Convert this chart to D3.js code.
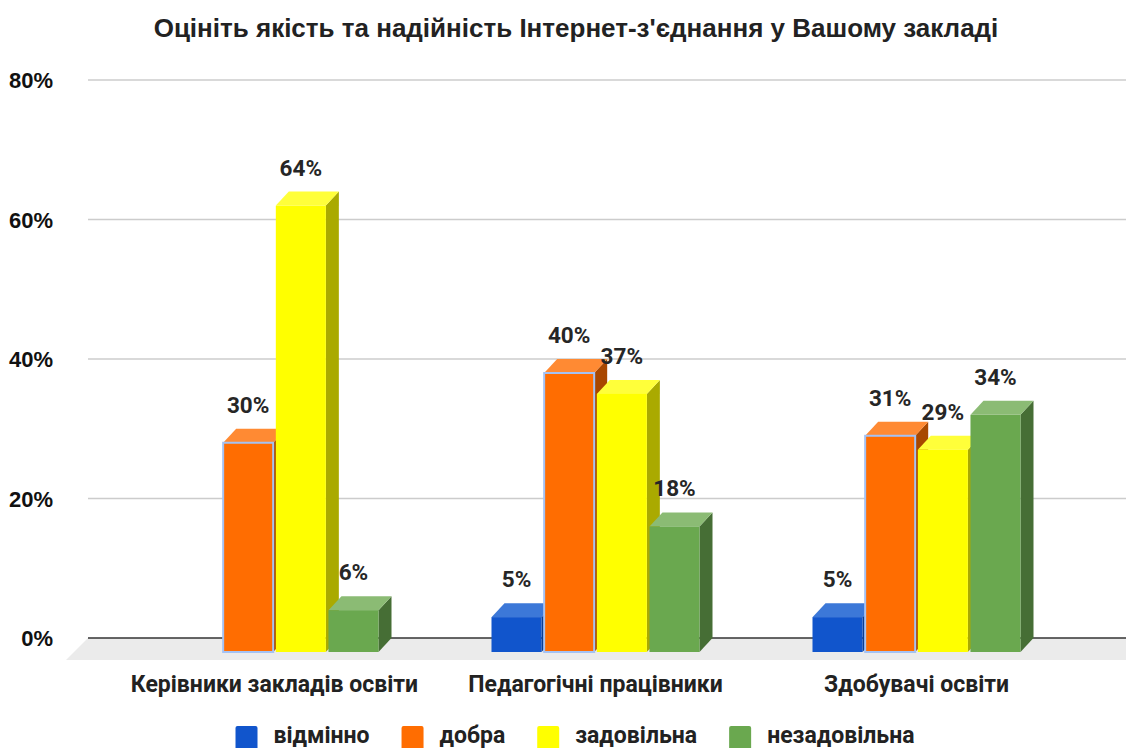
<!DOCTYPE html>
<html>
<head>
<meta charset="utf-8">
<script src="https://cdn.jsdelivr.net/npm/d3@7"></script>
<style>
  html, body { margin: 0; padding: 0; background: #fff; }
  svg { display: block; }
</style>
</head>
<body>
<div id="chart"></div>
<script>
const categories = ['Керівники закладів освіти', 'Педагогічні працівники', 'Здобувачі освіти'];
const seriesNames = ['відмінно', 'добра', 'задовільна', 'незадовільна'];
const excellent = [0, 5, 5];
const good = [30, 40, 31];
const satisfactory = [64, 37, 29];
const unsatisfactory = [6, 18, 34];
const yTicks = [0, 20, 40, 60, 80];

// front / top / side colours for each series
const colors = [
    {front: '#1155cc', top: '#3c78d8', side: '#0b3d91'},
    {front: '#ff6d01', top: '#ff8a33', side: '#a84700'},
    {front: '#ffff00', top: '#ffff3a', side: '#aaaa00'},
    {front: '#6aa84f', top: '#8bbb74', side: '#466e35'}
];

/**
 * 3D column chart
 *
 * @class Bar3DChart
 */
class Bar3DChart {

    constructor(selector) {
        this.width = 1126;
        this.height = 748;
        this.depthX = 13;
        this.depthY = 14;
        this.svg = d3.select(selector).append('svg')
            .attr('width', this.width)
            .attr('height', this.height);
    }

    draw() {
        const svg = this.svg;
        const series = [excellent, good, satisfactory, unsatisfactory];
        const dx = this.depthX, dy = this.depthY;

        const y = d3.scaleLinear().domain([0, 80]).range([638, 80]);
        const x0 = d3.scaleBand().domain(categories).range([114, 1077])
            .paddingInner(0.352).paddingOuter(0.176);
        const x1 = d3.scaleBand().domain(seriesNames).range([0, x0.bandwidth()])
            .paddingInner(0.05);

        // title
        svg.append('text')
            .attr('x', 576).attr('y', 37)
            .attr('text-anchor', 'middle')
            .attr('font-family', 'Liberation Sans, Arial, sans-serif')
            .attr('font-weight', 'bold')
            .attr('font-size', 26)
            .attr('fill', '#222')
            .text("Оцініть якість та надійність Інтернет-з'єднання у Вашому закладі");

        // gridlines + tick labels
        const grid = svg.append('g');
        grid.selectAll('line').data(yTicks.filter(t => t > 0)).join('line')
            .attr('x1', 88).attr('x2', this.width)
            .attr('y1', d => y(d)).attr('y2', d => y(d))
            .attr('stroke', '#cccccc').attr('stroke-width', 1.5);
        grid.selectAll('text').data(yTicks).join('text')
            .attr('x', 53).attr('y', d => y(d) + 8)
            .attr('text-anchor', 'end')
            .attr('font-family', 'Liberation Sans, Arial, sans-serif')
            .attr('font-weight', 'bold')
            .attr('font-size', 22)
            .attr('fill', '#111')
            .text(d => d + '%');

        // floor
        const y0 = y(0);
        svg.append('path')
            .attr('d', `M88,${y0}L${this.width},${y0}L${this.width},${y0 + 22}L66,${y0 + 22}Z`)
            .attr('fill', '#ebebeb');
        svg.append('line')
            .attr('x1', 88).attr('x2', this.width)
            .attr('y1', y0).attr('y2', y0)
            .attr('stroke', '#333').attr('stroke-width', 1.5);

        // bars
        const bars = [];
        categories.forEach((c, ci) => {
            seriesNames.forEach((s, si) => {
                bars.push({cat: c, name: s, si: si, value: series[si][ci]});
            });
        });

        const w = x1.bandwidth();
        const g = svg.append('g');
        bars.filter(d => d.value > 0).forEach(d => {
            const bx = x0(d.cat) + x1(d.name);
            const yv = y(d.value);
            const col = colors[d.si];
            const bar = g.append('g');

            bar.append('path')
                .attr('d', `M${bx + w},${yv + dy}L${bx + w + dx},${yv}L${bx + w + dx},${y0}L${bx + w},${y0 + dy}Z`)
                .attr('fill', col.side);
            bar.append('path')
                .attr('d', `M${bx},${yv + dy}L${bx + dx},${yv}L${bx + w + dx},${yv}L${bx + w},${yv + dy}Z`)
                .attr('fill', col.top);
            const front = bar.append('rect')
                .attr('x', bx).attr('y', yv + dy)
                .attr('width', w).attr('height', y0 - yv)
                .attr('fill', col.front);
            if (d.si === 1) {
                front.attr('stroke', '#a4c2f4').attr('stroke-width', 2);
            }

            bar.append('text')
                .attr('x', bx + w / 2).attr('y', yv - 16)
                .attr('text-anchor', 'middle')
                .attr('font-family', 'Roboto, sans-serif')
                .attr('font-weight', 'bold')
                .attr('font-size', 22.5)
                .attr('fill', '#262626')
                .text(d.value + '%');
        });

        // category labels
        svg.append('g').selectAll('text').data(categories).join('text')
            .attr('x', d => x0(d) + x0.bandwidth() / 2)
            .attr('y', 692)
            .attr('text-anchor', 'middle')
            .attr('font-family', 'Roboto, sans-serif')
            .attr('font-weight', 'bold')
            .attr('font-size', 23)
            .attr('fill', '#222')
            .text(d => d);

        this.legend();
    }

    legend() {
        const lg = this.svg.append('g');
        let cx = 0;
        seriesNames.forEach((s, i) => {
            const item = lg.append('g').attr('transform', `translate(${cx},0)`);
            item.append('rect')
                .attr('x', 0).attr('y', -17)
                .attr('width', 22).attr('height', 24)
                .attr('rx', 2)
                .attr('fill', colors[i].front);
            const t = item.append('text')
                .attr('x', 38).attr('y', 0)
                .attr('font-family', 'Roboto, sans-serif')
                .attr('font-weight', 'bold')
                .attr('font-size', 23)
                .attr('fill', '#222')
                .text(s);
            cx += 38 + t.node().getComputedTextLength() + 32;
        });
        const total = cx - 32;
        lg.attr('transform', `translate(${575 - total / 2},743)`);
    }
}

new Bar3DChart('#chart').draw();
</script>
</body>
</html>
